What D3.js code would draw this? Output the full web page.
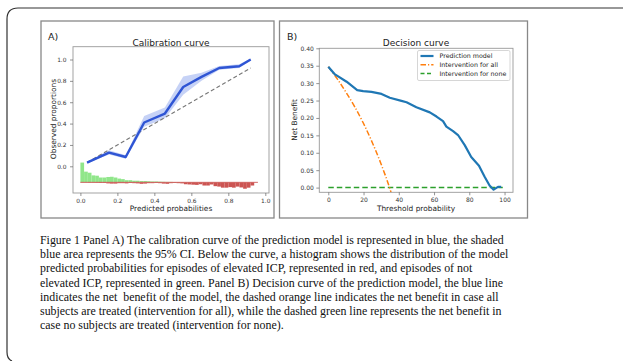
<!DOCTYPE html>
<html><head><meta charset="utf-8">
<script src="https://cdn.jsdelivr.net/npm/d3@7"></script>
<style>
html,body{margin:0;padding:0;background:#fff;}
svg{display:block;}
</style></head>
<body>
<script>
// ---- Panel A data: calibration curve ----
const calX = [0.036, 0.155, 0.245, 0.345, 0.457, 0.556, 0.655, 0.751, 0.859, 0.921];
const calY = [0.035, 0.128, 0.087, 0.410, 0.494, 0.743, 0.837, 0.921, 0.937, 1.000];
const calLo = [0.028, 0.110, 0.070, 0.370, 0.450, 0.670, 0.800, 0.905, 0.920, 0.990];
const calHi = [0.042, 0.150, 0.103, 0.470, 0.550, 0.840, 0.875, 0.940, 0.955, 1.010];
const diagX = [0.036, 0.921];
const histBinStart = [0.00,0.02,0.04,0.06,0.08,0.10,0.12,0.14,0.16,0.18,0.20,0.22,0.24,0.26,0.28,0.30,0.32,0.34,0.36,0.38,0.40,0.42,0.44,0.46,0.48,0.50,0.52,0.54,0.56,0.58,0.60,0.62,0.64,0.66,0.68,0.70,0.72,0.74,0.76,0.78,0.80,0.82,0.84,0.86,0.88,0.90,0.92,0.94];
const histGreen = [0.185,0.10,0.09,0.065,0.062,0.045,0.045,0.05,0.052,0.045,0.035,0.03,0.02,0.02,0.015,0.015,0.012,0.012,0.01,0.008,0.008,0.006,0.005,0.004,0.004,0.003,0.003,0.002,0.002,0.002,0.002,0.001,0.001,0.001,0.001,0.001,0.001,0.001,0.001,0.001,0,0,0,0,0,0,0,0];
const histRed = [0.003,0.003,0.004,0.004,0.005,0.006,0.006,0.01,0.012,0.012,0.008,0.008,0.01,0.006,0.008,0.01,0.014,0.012,0.008,0.008,0.006,0.008,0.012,0.014,0.008,0.006,0.008,0.01,0.018,0.02,0.022,0.024,0.018,0.03,0.03,0.02,0.036,0.04,0.05,0.05,0.045,0.05,0.04,0.048,0.06,0.05,0.03,0.002];
const histBase = -0.15;
const histBinW = 0.02;
const calXTicks = [0.0,0.2,0.4,0.6,0.8,1.0];
const calYTicks = [0.0,0.2,0.4,0.6,0.8,1.0];

// ---- Panel B data: decision curve ----
const dcThr = [0, 3.8, 10.4, 16.4, 19.8, 24.5, 30.2, 34.9, 41.5, 44.4, 50.0, 57.6, 61.4, 65.1, 67.0, 70.8, 73.6, 77.4, 81.1, 85.5, 88.7, 91.5, 93.8, 96.3, 98.1];
const dcModel = [0.347, 0.325, 0.304, 0.280, 0.277, 0.275, 0.269, 0.258, 0.249, 0.245, 0.231, 0.216, 0.204, 0.191, 0.175, 0.162, 0.151, 0.122, 0.088, 0.063, 0.031, 0.006, -0.006, 0.002, 0.002];
const allThr = [0, 5, 10, 15, 20, 25, 30, 35, 37];
const allNB = [0.347, 0.313, 0.274, 0.232, 0.184, 0.129, 0.067, -0.004, -0.037];
const noneThr = [0, 99];
const noneNB = [0, 0];
const dcXTicks = [0,20,40,60,80,100];
const dcYTicks = [0.00,0.05,0.10,0.15,0.20,0.25,0.30,0.35,0.40];
const legendLabels = ["Prediction model","Intervention for all","Intervention for none"];

const captionLines = [
 "Figure 1 Panel A) The calibration curve of the prediction model is represented in blue, the shaded",
 "blue area represents the 95% CI. Below the curve, a histogram shows the distribution of the model",
 "predicted probabilities for episodes of elevated ICP, represented in red, and episodes of not",
 "elevated ICP, represented in green. Panel B) Decision curve of the prediction model, the blue line",
 "indicates the net  benefit of the model, the dashed orange line indicates the net benefit in case all",
 "subjects are treated (intervention for all), while the dashed green line represents the net benefit in",
 "case no subjects are treated (intervention for none)."
];

const W = 623, H = 361;
const svg = d3.select("body").append("svg").attr("width", W).attr("height", H);
const font = "DejaVu Sans, sans-serif";

// outer frame
svg.append("path")
  .attr("d", "M623,8 L18,8 Q7,8 7,19 L7,352 Q7,359 12,361")
  .attr("fill","none").attr("stroke","#333").attr("stroke-width",1.2);

// panel boxes
svg.append("rect").attr("x",41).attr("y",21).attr("width",233).attr("height",197)
  .attr("fill","none").attr("stroke","#888").attr("stroke-width",1.3);
svg.append("rect").attr("x",279.5).attr("y",21).attr("width",248).attr("height",197)
  .attr("fill","none").attr("stroke","#888").attr("stroke-width",1.3);

// ================= Panel A =================
const xA = d3.scaleLinear().domain([-0.04, 1.02]).range([73, 269]);
const yA = d3.scaleLinear().domain([-0.25, 1.12]).range([193, 46.7]);
const gA = svg.append("g");
svg.append("clipPath").attr("id","clipA").append("rect")
  .attr("x",73).attr("y",46.7).attr("width",196).attr("height",146.3);

const pA = gA.append("g").attr("clip-path","url(#clipA)");
// histogram
histBinStart.forEach((b,i)=>{
  if (histGreen[i] > 0) pA.append("rect")
    .attr("x", xA(b)).attr("width", xA(b+histBinW)-xA(b))
    .attr("y", yA(histBase + histGreen[i])).attr("height", yA(histBase)-yA(histBase+histGreen[i]))
    .attr("fill","#90e68a");
  if (histRed[i] > 0) pA.append("rect")
    .attr("x", xA(b)).attr("width", xA(b+histBinW)-xA(b))
    .attr("y", yA(histBase)).attr("height", yA(histBase - histRed[i]) - yA(histBase))
    .attr("fill","#cc5452");
});
pA.append("line").attr("x1",xA(0)).attr("x2",xA(0.96)).attr("y1",yA(histBase)).attr("y2",yA(histBase))
  .attr("stroke","#cc5452").attr("stroke-width",0.8);

// CI band
const bandData = calX.map((x,i)=>({x, lo:calLo[i], hi:calHi[i]}));
pA.append("path").datum(bandData)
  .attr("d", d3.area().x(d=>xA(d.x)).y0(d=>yA(d.lo)).y1(d=>yA(d.hi)))
  .attr("fill","#4169e1").attr("fill-opacity",0.3);
// diagonal
pA.append("line").attr("x1",xA(diagX[0])).attr("y1",yA(diagX[0])).attr("x2",xA(diagX[1])).attr("y2",yA(diagX[1]))
  .attr("stroke","#777").attr("stroke-width",1.1).attr("stroke-dasharray","4,2.5");
// calibration line
pA.append("path").datum(calX.map((x,i)=>[x,calY[i]]))
  .attr("d", d3.line().x(d=>xA(d[0])).y(d=>yA(d[1])))
  .attr("fill","none").attr("stroke","#2f55d4").attr("stroke-width",2.4).attr("stroke-linejoin","round");

// frame
gA.append("rect").attr("x",73).attr("y",46.7).attr("width",196).attr("height",146.3)
  .attr("fill","none").attr("stroke","#999").attr("stroke-width",0.9);

// axes
const axAX = gA.append("g").attr("transform","translate(0,193)")
  .call(d3.axisBottom(xA).tickValues(calXTicks).tickFormat(d3.format(".1f")).tickSize(3).tickPadding(2.5));
const axAY = gA.append("g").attr("transform","translate(73,0)")
  .call(d3.axisLeft(yA).tickValues(calYTicks).tickFormat(d3.format(".1f")).tickSize(3).tickPadding(3.5));
[axAX, axAY].forEach(a=>{
  a.select(".domain").remove();
  a.selectAll("line").attr("stroke","#666").attr("stroke-width",0.7);
  a.selectAll("text").attr("font-family",font).attr("font-size",5.9).attr("fill","#333");
});

gA.append("text").attr("x",171).attr("y",45.5).attr("text-anchor","middle")
  .attr("font-family",font).attr("font-size",9).attr("fill","#222").text("Calibration curve");
gA.append("text").attr("x",171).attr("y",211).attr("text-anchor","middle")
  .attr("font-family",font).attr("font-size",7.4).attr("fill","#222").text("Predicted probabilities");
gA.append("text").attr("transform","translate(56,119) rotate(-90)").attr("text-anchor","middle")
  .attr("font-family",font).attr("font-size",7.4).attr("fill","#222").text("Observed proportions");
gA.append("text").attr("x",48).attr("y",40).attr("font-family",font).attr("font-size",9.5).attr("fill","#222").text("A)");

// ================= Panel B =================
const xB = d3.scaleLinear().domain([-5.1, 104.8]).range([319.3, 513]);
const yB = d3.scaleLinear().domain([-0.0135, 0.40]).range([192.3, 48.3]);
const gB = svg.append("g");
svg.append("clipPath").attr("id","clipB").append("rect")
  .attr("x",319.3).attr("y",48.3).attr("width",193.7).attr("height",144);
const pB = gB.append("g").attr("clip-path","url(#clipB)");

const lineB = d3.line().x(d=>xB(d[0])).y(d=>yB(d[1]));
pB.append("path").datum(noneThr.map((t,i)=>[t,noneNB[i]])).attr("d",lineB)
  .attr("fill","none").attr("stroke","#2ca02c").attr("stroke-width",1.5).attr("stroke-dasharray","5.5,3");
pB.append("path").datum(allThr.map((t,i)=>[t,allNB[i]])).attr("d",d3.line().curve(d3.curveMonotoneX).x(d=>xB(d[0])).y(d=>yB(d[1])))
  .attr("fill","none").attr("stroke","#ff7f0e").attr("stroke-width",1.5).attr("stroke-dasharray","5.5,2,1.2,2");
pB.append("path").datum(dcThr.map((t,i)=>[t,dcModel[i]])).attr("d",lineB)
  .attr("fill","none").attr("stroke","#1f77b4").attr("stroke-width",2.2).attr("stroke-linejoin","round");

gB.append("rect").attr("x",319.3).attr("y",48.3).attr("width",193.7).attr("height",144)
  .attr("fill","none").attr("stroke","#999").attr("stroke-width",0.9);

const axBX = gB.append("g").attr("transform","translate(0,192.3)")
  .call(d3.axisBottom(xB).tickValues(dcXTicks).tickFormat(d3.format("d")).tickSize(3).tickPadding(2.5));
const axBY = gB.append("g").attr("transform","translate(319.3,0)")
  .call(d3.axisLeft(yB).tickValues(dcYTicks).tickFormat(d3.format(".2f")).tickSize(3).tickPadding(2.5));
[axBX, axBY].forEach(a=>{
  a.select(".domain").remove();
  a.selectAll("line").attr("stroke","#666").attr("stroke-width",0.7);
  a.selectAll("text").attr("font-family",font).attr("font-size",6).attr("fill","#333");
});

gB.append("text").attr("x",416).attr("y",45.5).attr("text-anchor","middle")
  .attr("font-family",font).attr("font-size",9).attr("fill","#222").text("Decision curve");
gB.append("text").attr("x",416).attr("y",211).attr("text-anchor","middle")
  .attr("font-family",font).attr("font-size",7.4).attr("fill","#222").text("Threshold probability");
gB.append("text").attr("transform","translate(297,120) rotate(-90)").attr("text-anchor","middle")
  .attr("font-family",font).attr("font-size",7.4).attr("fill","#222").text("Net Benefit");
gB.append("text").attr("x",287).attr("y",40).attr("font-family",font).attr("font-size",9.5).attr("fill","#222").text("B)");

// legend
const lg = gB.append("g");
lg.append("rect").attr("x",417.5).attr("y",50.5).attr("width",92.5).attr("height",30).attr("rx",1.5)
  .attr("fill","#fff").attr("stroke","#ccc").attr("stroke-width",0.8);
const legColors = ["#1f77b4","#ff7f0e","#2ca02c"];
const legDash = [null,"5.5,2,1.2,2","4,2.5"];
const legW = [2.2,1.5,1.5];
legendLabels.forEach((l,i)=>{
  const y = 56 + i*8.7;
  const ln = lg.append("line").attr("x1",420.5).attr("x2",433.5).attr("y1",y).attr("y2",y)
    .attr("stroke",legColors[i]).attr("stroke-width",legW[i]);
  if (legDash[i]) ln.attr("stroke-dasharray",legDash[i]);
  lg.append("text").attr("x",439.5).attr("y",y+2.2).attr("font-family",font).attr("font-size",6.3)
    .attr("fill","#222").text(l);
});

// caption
const cap = svg.append("g");
captionLines.forEach((t,i)=>{
  cap.append("text").attr("x",40).attr("y",244 + i*14.2)
    .attr("font-family","Liberation Serif, Times New Roman, serif").attr("font-size",11.9)
    .attr("fill","#111").attr("xml:space","preserve").style("white-space","pre").text(t);
});
</script>
</body></html>
